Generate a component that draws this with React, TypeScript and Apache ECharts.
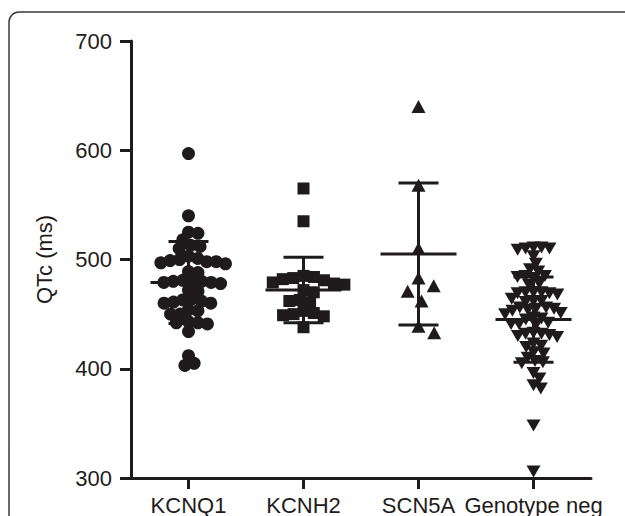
import React, { useEffect, useRef } from "react";
import * as echarts from "echarts";

const categories = ["KCNQ1", "KCNH2", "SCN5A", "Genotype neg"];

const kcnq1 = [597, 540, 525, 524, 518, 513, 512, 510, 503, 501, 499, 497, 498, 496, 498, 500, 488, 489, 481, 480, 479, 478, 480, 481, 479, 472, 471, 463, 461, 460, 462, 464, 460, 454, 453, 450, 450, 442, 441, 442, 443, 434, 412, 405, 403];
const kcnh2 = [565, 535, 485, 484, 483, 482, 481, 479, 478, 477, 472, 470, 463, 462, 461, 453, 451, 450, 449, 448, 438];
const scn5a = [640, 568, 510, 483, 476, 471, 462, 439, 433];
const genoNeg = [511, 510, 509, 510, 511, 503, 496, 491, 489, 485, 484, 483, 485, 478, 477, 470, 469, 470, 468, 469, 470, 464, 462, 461, 462, 456, 455, 453, 456, 455, 454, 450, 451, 447, 446, 445, 441, 440, 441, 442, 433, 432, 430, 429, 431, 432, 423, 421, 420, 415, 414, 410, 406, 405, 407, 391, 382, 385, 396, 348, 306];

const means = [479, 472, 505, 445];
const sds = [37.5, 30, 65, 39];

const yMin = 300;
const yMax = 700;
const yInterval = 100;

const INK = "#1f1b1c";
const FONT = "'Liberation Sans', Arial, Helvetica, sans-serif";

// layout constants of the plot area (px)
const GRID = { left: 131, top: 41, width: 460, height: 437 };
const PX_PER_Y = GRID.height / (yMax - yMin);
const PX_PER_CAT = GRID.width / categories.length;

// beeswarm: horizontal offsets (category units) so markers don't overlap too much
function swarm(values: number[], d: number): number[] {
  const order = values.map((v, i) => i).sort((a, b) => values[b] - values[a]);
  const placed: { x: number; y: number }[] = [];
  const offsets = new Array(values.length).fill(0);
  for (const idx of order) {
    const y = values[idx] * PX_PER_Y;
    const cands = [0];
    for (const p of placed) {
      const dy = Math.abs(p.y - y);
      if (dy < d) {
        const dx = Math.sqrt(d * d - dy * dy);
        cands.push(p.x + dx + 0.01, p.x - dx - 0.01);
      }
    }
    cands.sort((a, b) => Math.abs(a) - Math.abs(b));
    let chosen = 0;
    for (const c of cands) {
      let ok = true;
      for (const p of placed) {
        const dx = p.x - c;
        const dy = p.y - y;
        if (dx * dx + dy * dy < d * d - 0.001) {
          ok = false;
          break;
        }
      }
      if (ok) {
        chosen = c;
        break;
      }
    }
    placed.push({ x: chosen, y });
    offsets[idx] = chosen / PX_PER_CAT;
  }
  return offsets;
}

function toPoints(values: number[], cat: number, d: number) {
  const offs = swarm(values, d);
  return values.map((v, i) => [cat + 1 + offs[i], v]);
}

export default function App() {
  const ref = useRef<HTMLDivElement>(null);
  useEffect(() => {
    if (!ref.current) return;
    const chart = echarts.init(ref.current, null, { renderer: "svg" });
    const errData = categories.map((c, i) => [i + 1, means[i], sds[i]]);
    const pointStyle = { color: INK, opacity: 1 };
    const option: any = {
      animation: false,
      backgroundColor: "#ffffff",
      grid: { left: GRID.left, top: GRID.top, width: GRID.width, height: GRID.height, containLabel: false },
      graphic: [
        {
          type: "rect",
          shape: { x: 9, y: 12, width: 700, height: 600, r: 10 },
          style: { fill: "none", stroke: "#3a3a3a", lineWidth: 1.5 },
          silent: true,
          z: -10,
        },
      ],
      xAxis: [
        {
          type: "category",
          data: categories,
          boundaryGap: true,
          axisLine: { show: true, lineStyle: { color: INK, width: 3 } },
          axisTick: { show: true, alignWithLabel: true, length: 11, lineStyle: { color: INK, width: 3 } },
          axisLabel: { interval: 0, color: INK, fontSize: 22, fontFamily: FONT, margin: 16 },
          splitLine: { show: false },
        },
        {
          type: "value",
          min: 0.5,
          max: 4.5,
          show: false,
          splitLine: { show: false },
        },
      ],
      yAxis: {
        type: "value",
        min: yMin,
        max: yMax,
        interval: yInterval,
        name: "QTc (ms)",
        nameLocation: "middle",
        nameGap: 76,
        nameTextStyle: { color: INK, fontSize: 22, fontFamily: FONT },
        axisLine: { show: true, lineStyle: { color: INK, width: 3 } },
        axisTick: { show: true, length: 11, lineStyle: { color: INK, width: 3 } },
        axisLabel: { color: INK, fontSize: 22, fontFamily: FONT, margin: 19 },
        splitLine: { show: false },
      },
      series: [
        {
          type: "scatter",
          xAxisIndex: 1,
          symbol: "circle",
          symbolSize: 13,
          itemStyle: pointStyle,
          data: toPoints(kcnq1, 0, 9.5),
        },
        {
          type: "scatter",
          xAxisIndex: 1,
          symbol: "rect",
          symbolSize: 12,
          itemStyle: pointStyle,
          data: toPoints(kcnh2, 1, 10.5),
        },
        {
          type: "scatter",
          xAxisIndex: 1,
          symbol: "triangle",
          symbolSize: [14, 13],
          itemStyle: pointStyle,
          data: toPoints(scn5a, 2, 17),
        },
        {
          type: "scatter",
          xAxisIndex: 1,
          symbol: "triangle",
          symbolRotate: 180,
          symbolSize: [14, 12],
          itemStyle: pointStyle,
          data: toPoints(genoNeg, 3, 8),
        },
        {
          type: "custom",
          xAxisIndex: 1,
          z: 5,
          data: errData,
          renderItem: (params: any, api: any) => {
            const x = api.value(0);
            const m = api.value(1);
            const s = api.value(2);
            const pm = api.coord([x, m]);
            const pt = api.coord([x, m + s]);
            const pb = api.coord([x, m - s]);
            const style = { stroke: INK, lineWidth: 3 };
            return {
              type: "group",
              children: [
                { type: "line", shape: { x1: pm[0] - 38, y1: pm[1], x2: pm[0] + 38, y2: pm[1] }, style },
                { type: "line", shape: { x1: pt[0], y1: pt[1], x2: pb[0], y2: pb[1] }, style },
                { type: "line", shape: { x1: pt[0] - 20, y1: pt[1], x2: pt[0] + 20, y2: pt[1] }, style },
                { type: "line", shape: { x1: pb[0] - 20, y1: pb[1], x2: pb[0] + 20, y2: pb[1] }, style },
              ],
            };
          },
        },
      ],
    };
    chart.setOption(option);
    return () => chart.dispose();
  }, []);
  return (
    <div
      ref={ref}
      style={{ position: "fixed", left: 0, top: 0, width: 625, height: 516, background: "#fff" }}
    />
  );
}
